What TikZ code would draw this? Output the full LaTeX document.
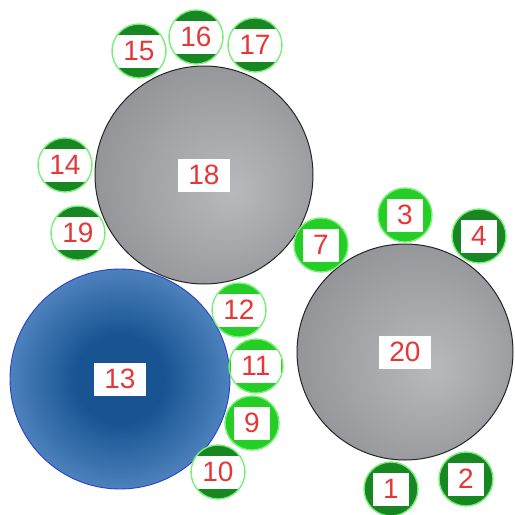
\documentclass[tikz,border=0pt]{standalone}
\usepackage{fontspec}
\setmainfont{Liberation Sans}

\definecolor{darkgreen}{RGB}{24,134,34}
\definecolor{brightgreen}{RGB}{36,206,36}
\definecolor{ringgreen}{RGB}{120,240,120}
\definecolor{tagred}{RGB}{228,56,56}
\definecolor{blueinner}{RGB}{24,84,146}
\definecolor{blueouter}{RGB}{112,160,216}
\definecolor{blueedge}{RGB}{40,62,210}
\definecolor{greyinner}{RGB}{184,185,189}
\definecolor{greymid}{RGB}{164,165,169}
\definecolor{greyouter}{RGB}{126,126,131}

\pgfdeclareradialshading{greydisc}{\pgfpoint{7bp}{-4bp}}%
  {color(0bp)=(greyinner); color(16bp)=(greymid); color(44bp)=(greyouter)}
\pgfdeclareradialshading{bluedisc}{\pgfpoint{0bp}{0bp}}%
  {color(0bp)=(blueinner); color(10bp)=(blueinner); color(35bp)=(blueouter)}

\tikzset{
  tag/.style={rectangle, draw=none, fill=white, text=tagred, inner xsep=10pt,
    inner ysep=4pt, minimum width=0pt, minimum height=33pt,
    font=\fontsize{28}{28}\selectfont},
  bigdisc/.style={circle, inner sep=0pt, outer sep=0pt, minimum size=#1},
  smalldisc/.style={circle, inner sep=0pt, outer sep=0pt, minimum size=54pt,
    draw=ringgreen, line width=1.4pt}
}

\begin{document}
\begin{tikzpicture}[x=1pt,y=-1pt]
\useasboundingbox[fill=white] (0,0) rectangle (515,515);

% the three large discs
\node[bigdisc=218pt, draw=black!85, line width=1pt, shading=greydisc] (d18) at (204,175) {};
\node[bigdisc=220pt, draw=blueedge, line width=0.9pt, shading=bluedisc] (d13) at (120,379) {};
\node[bigdisc=216pt, draw=black!85, line width=1pt, shading=greydisc] (d20) at (405,352) {};
\node[tag] (t18) at (d18.center) {18};
\node[tag] (t13) at (d13.center) {13};
\node[tag] (t20) at (d20.center) {20};

% small green discs
\foreach \x/\y/\t/\c in {139/51/15/darkgreen, 196/37/16/darkgreen, 255/45/17/darkgreen,
    65/165/14/darkgreen, 78/233/19/darkgreen, 321/245/7/brightgreen,
    405/215/3/brightgreen, 479/236/4/darkgreen, 239/310/12/brightgreen,
    256/366/11/brightgreen, 252/423/9/brightgreen, 218/472/10/darkgreen,
    391/489/1/darkgreen, 466/479/2/darkgreen} {
  \node[smalldisc, fill=\c,
    path picture={\node[tag] at (path picture bounding box.center) {\t};}]
    (c\t) at (\x,\y) {};
}

\end{tikzpicture}
\end{document}
